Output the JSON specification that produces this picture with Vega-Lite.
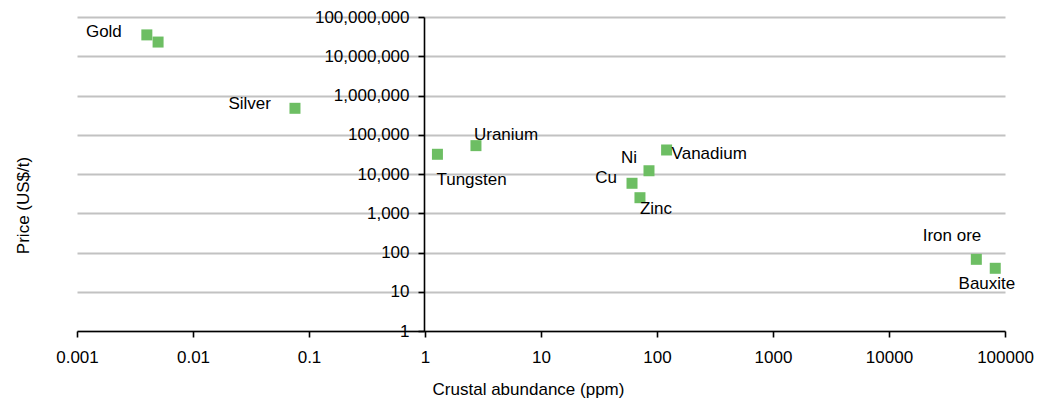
{
  "$schema": "https://vega.github.io/schema/vega-lite/v6.json",
  "width": 928,
  "height": 314,
  "autosize": {"type": "none"},
  "padding": {"left": 77, "top": 17, "right": 39, "bottom": 72},
  "background": "white",
  "config": {
    "view": {"stroke": null},
    "font": "Liberation Sans",
    "text": {"font": "Liberation Sans", "fontSize": 17, "color": "#000000", "baseline": "alphabetic"}
  },
  "data": {
    "values": [
      {"metal": "Gold", "label": "Gold", "abundance": 0.004, "price": 35000000},
      {"metal": "Platinum", "label": "", "abundance": 0.005, "price": 23000000},
      {"metal": "Silver", "label": "Silver", "abundance": 0.0757, "price": 472000},
      {"metal": "Tungsten", "label": "Tungsten", "abundance": 1.28, "price": 31800},
      {"metal": "Uranium", "label": "Uranium", "abundance": 2.75, "price": 52800},
      {"metal": "Vanadium", "label": "Vanadium", "abundance": 121, "price": 40900},
      {"metal": "Ni", "label": "Ni", "abundance": 85.3, "price": 12100},
      {"metal": "Cu", "label": "Cu", "abundance": 60.9, "price": 5800},
      {"metal": "Zinc", "label": "Zinc", "abundance": 71.3, "price": 2490},
      {"metal": "Iron ore", "label": "Iron ore", "abundance": 56600, "price": 67},
      {"metal": "Bauxite", "label": "Bauxite", "abundance": 82400, "price": 39.6}
    ]
  },
  "encoding": {
    "x": {
      "field": "abundance",
      "type": "quantitative",
      "scale": {"type": "log", "domain": [0.001, 100000], "nice": false},
      "axis": {
        "values": [0.001, 0.01, 0.1, 1, 10, 100, 1000, 10000, 100000],
        "format": "~g",
        "grid": false,
        "domainColor": "#000000",
        "domainWidth": 1.6,
        "tickColor": "#000000",
        "tickWidth": 1.6,
        "tickSize": 6,
        "labelPadding": 12,
        "labelFont": "Liberation Sans",
        "labelFontSize": 17,
        "labelColor": "#000000",
        "labelFlush": false,
        "labelOverlap": false,
        "title": "Crustal abundance (ppm)",
        "titleFont": "Liberation Sans",
        "titleFontSize": 17,
        "titleFontWeight": "normal",
        "titleColor": "#000000",
        "titleX": 451,
        "titleY": 63,
        "titleAlign": "center",
        "titleBaseline": "alphabetic"
      }
    },
    "y": {
      "field": "price",
      "type": "quantitative",
      "scale": {"type": "log", "domain": [1, 100000000], "nice": false},
      "axis": {
        "values": [1, 10, 100, 1000, 10000, 100000, 1000000, 10000000, 100000000],
        "format": ",",
        "offset": -347,
        "grid": true,
        "gridColor": "#c2c2c2",
        "gridWidth": 2,
        "domainColor": "#000000",
        "domainWidth": 1.6,
        "tickColor": "#000000",
        "tickWidth": 1.6,
        "tickSize": 6,
        "labelPadding": 9,
        "labelFont": "Liberation Sans",
        "labelFontSize": 17,
        "labelColor": "#000000",
        "labelFlush": false,
        "labelOverlap": false,
        "title": "Price (US$/t)",
        "titleFont": "Liberation Sans",
        "titleFontSize": 17,
        "titleFontWeight": "normal",
        "titleColor": "#000000",
        "titleAngle": 270,
        "titleX": -396,
        "titleY": 188,
        "titleAlign": "center",
        "titleBaseline": "alphabetic"
      }
    }
  },
  "layer": [
    {"mark": {"type": "square", "size": 121, "color": "#6dbe63", "opacity": 1, "filled": true}},
    {"transform": [{"filter": "datum.label == 'Gold'"}], "mark": {"type": "text", "align": "right", "dx": -25, "dy": 2}, "encoding": {"text": {"field": "label"}}},
    {"transform": [{"filter": "datum.label == 'Silver'"}], "mark": {"type": "text", "align": "right", "dx": -24, "dy": 1}, "encoding": {"text": {"field": "label"}}},
    {"transform": [{"filter": "datum.label == 'Uranium'"}], "mark": {"type": "text", "align": "left", "dx": -2, "dy": -6}, "encoding": {"text": {"field": "label"}}},
    {"transform": [{"filter": "datum.label == 'Tungsten'"}], "mark": {"type": "text", "align": "left", "dx": -1, "dy": 31}, "encoding": {"text": {"field": "label"}}},
    {"transform": [{"filter": "datum.label == 'Vanadium'"}], "mark": {"type": "text", "align": "left", "dx": 5, "dy": 9}, "encoding": {"text": {"field": "label"}}},
    {"transform": [{"filter": "datum.label == 'Ni'"}], "mark": {"type": "text", "align": "right", "dx": -12, "dy": -8}, "encoding": {"text": {"field": "label"}}},
    {"transform": [{"filter": "datum.label == 'Cu'"}], "mark": {"type": "text", "align": "right", "dx": -15, "dy": 0}, "encoding": {"text": {"field": "label"}}},
    {"transform": [{"filter": "datum.label == 'Zinc'"}], "mark": {"type": "text", "align": "left", "dx": 0, "dy": 16}, "encoding": {"text": {"field": "label"}}},
    {"transform": [{"filter": "datum.label == 'Iron ore'"}], "mark": {"type": "text", "align": "right", "dx": 5, "dy": -18}, "encoding": {"text": {"field": "label"}}},
    {"transform": [{"filter": "datum.label == 'Bauxite'"}], "mark": {"type": "text", "align": "right", "dx": 20, "dy": 21}, "encoding": {"text": {"field": "label"}}}
  ]
}
